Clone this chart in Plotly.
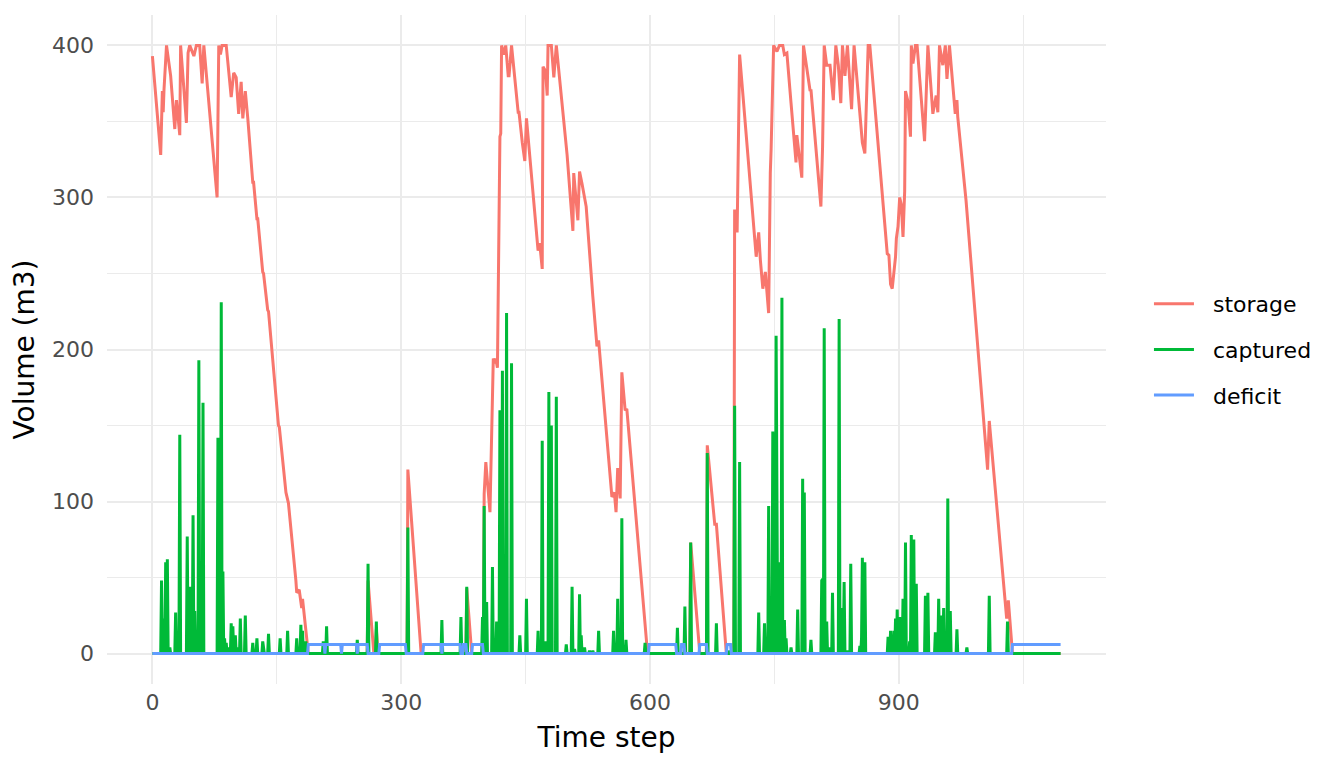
import numpy as np
import plotly.graph_objects as go

# ---------------- data ----------------
n_steps = 1096  # time steps 0..1095

# storage (m3): polyline vertices (time step, volume)
storage_t = [0, 10, 12, 13, 14, 17, 22, 27, 29, 33, 34, 41, 43, 45, 50, 53, 57, 60, 62, 78, 80, 82, 84, 89,
             95, 98, 101, 104, 107, 109, 112, 115, 121, 122, 126, 127, 133, 134, 139, 140, 152, 153, 161, 164,
             173, 174, 177, 180, 181, 184, 187, 188,
             259, 260, 267, 269, 270, 272, 307, 308, 324, 378, 379, 385, 399, 400, 402, 407, 411, 413, 414, 416,
             419, 420, 421, 424, 426, 429, 430, 433, 441, 442, 446, 449, 451, 465, 467, 470, 471, 474, 476, 477,
             481, 484, 487, 499, 500, 507, 508, 513, 515, 518, 523, 531, 535, 536, 538, 554, 557, 559, 561, 564,
             566, 570, 572, 593, 594, 597,
             648, 649, 660, 668, 669, 678, 680, 692, 701, 702, 705, 708, 728, 731, 733, 736, 739, 743, 745, 746,
             749, 753, 756, 760, 762, 765, 770, 776, 777, 781, 783, 785, 787, 793, 794, 806, 808, 810, 813, 817,
             821, 824, 827, 830, 832, 835, 838, 843, 846, 856, 859, 863, 865, 886, 888, 890, 892, 896, 897, 899,
             901, 903, 905, 907, 908, 911, 914, 915, 917, 920, 922, 931, 935, 941, 945, 947, 949, 953, 956, 958,
             961, 968, 970, 971, 981, 1007, 1009, 1030, 1032, 1034, 1037, 1095]
storage_v = [393, 328, 370, 356, 371, 400, 380, 345, 364, 341, 400, 349, 395, 400, 393, 400, 400, 375, 400, 300,
             400, 394, 400, 400, 366, 382, 379, 355, 376, 352, 370, 352, 310, 310, 286, 286, 251, 250, 226, 225,
             150, 149, 106, 99, 48, 40, 42, 30, 36, 19, 4, 0,
             0, 48, 0, 0, 16, 0, 0, 121, 0, 0, 43, 0, 0, 105, 126, 93, 194, 191, 194, 188,
             340, 342, 400, 394, 400, 380, 380, 400, 356, 356, 336, 324, 352, 265, 270, 253, 386, 383, 367, 400,
             400, 379, 400, 329, 328, 278, 316, 285, 317, 309, 294, 235, 211, 202, 206, 103, 106, 93, 122, 102,
             185, 160, 161, 24, 21, 0,
             0, 73, 0, 0, 137, 85, 85, 0, 0, 292, 277, 394, 261, 277, 259, 240, 251, 224, 316, 332,
             400, 396, 400, 400, 394, 395, 362, 323, 341, 324, 313, 400, 393, 370, 371, 294, 333, 400, 387, 387,
             364, 400, 387, 362, 400, 380, 400, 358, 400, 336, 329, 400, 400, 263, 262, 243, 240, 261, 273, 281,
             300, 295, 274, 304, 370, 363, 340, 400, 388, 400, 400, 337, 400, 355, 367, 356, 400, 387, 400, 378,
             400, 355, 364, 353, 298, 121, 153, 23, 35, 23, 0, 0]

# captured (m3): time steps with a non-zero capture and the captured volume
captured_t = [11, 13, 16, 18, 21, 28, 33, 42, 45, 46, 49, 51, 53, 56, 57, 61, 79, 81, 83, 85, 87, 89, 91, 95, 97,
              100, 102, 106, 112, 121, 126, 133, 134, 140, 154, 163, 174, 179, 181, 185, 206, 210,
              247, 260, 270, 308, 349, 372, 379, 398, 400, 403, 410, 415, 419, 422, 427, 433,
              443, 451, 465, 470, 474, 476, 478, 481, 487, 499, 506, 509, 515, 517, 521, 527, 531, 538, 556, 561,
              566, 571, 594, 633, 642, 649,
              669, 680, 696, 702, 708, 731, 738, 743, 748, 750, 752, 753, 755, 759, 762, 764, 770, 778, 784, 786,
              794, 807, 808, 810, 813, 817, 820, 828, 831, 834, 838, 842, 853, 855, 856, 859,
              887, 890, 894, 896, 898, 901, 903, 905, 908, 913, 915, 918, 921, 932, 935, 944, 946, 948, 951, 954,
              959, 962, 970, 982, 1009, 1031]
captured_v = [48, 23, 60, 62, 4, 27, 144, 77, 39, 44, 91, 28, 15, 193, 12, 165, 142, 52, 231, 54, 10, 7, 4, 20, 18,
              12, 4, 23, 25, 7, 10, 8, 5, 13, 10, 15, 10, 19, 15, 8, 8, 18,
              9, 59, 21, 83, 22, 24, 44, 24, 97, 34, 57, 21, 160, 186, 224, 191,
              12, 36, 15, 140, 8, 8, 172, 150, 169, 6, 44, 3, 39, 12, 4, 2, 2, 15, 15, 36,
              89, 9, 7, 17, 31, 73,
              132, 20, 2, 163, 126, 27, 20, 97, 146, 145, 209, 20, 60, 234, 22, 10, 4, 29, 115, 106,
              9, 48, 49, 214, 21, 4, 40, 220, 30, 47, 2, 59, 5, 10, 63, 60,
              11, 15, 15, 23, 29, 24, 20, 36, 73, 8, 78, 75, 46, 38, 40, 14, 13, 36, 25, 30,
              102, 28, 16, 4, 38, 21]

# deficit (m3): step vertices (time step, volume)
deficit_t = [0, 187, 188, 207, 208, 209, 227, 228, 229, 246, 247, 248, 259, 260, 273, 274, 305, 306, 326, 327,
             348, 349, 350, 371, 372, 374, 375, 378, 379, 385, 386, 398, 399, 598, 599, 631, 632, 637, 638, 641,
             642, 659, 660, 668, 669, 692, 693, 697, 698, 1036, 1037, 1095]
deficit_v = [0, 0, 6, 6, 0, 6, 6, 0, 6, 6, 0, 6, 6, 0, 0, 6, 6, 0, 0, 6,
             6, 0, 6, 6, 0, 0, 6, 6, 0, 0, 6, 6, 0, 0, 6, 6, 0, 0, 6, 6,
             0, 0, 6, 6, 0, 0, 6, 6, 0, 0, 6, 6]

series_names = ["storage", "captured", "deficit"]
series_colors = ["#F8766D", "#00BA38", "#619CFF"]

x_ticks = [0, 300, 600, 900]
y_ticks = [0, 100, 200, 300, 400]

# daily captured series built from the spike list
time_steps = np.arange(n_steps)
captured_daily = np.zeros(n_steps)
captured_daily[captured_t] = captured_v

# ---------------- figure ----------------
FONT = "DejaVu Sans"
LW = 3
NB = "\u00a0\u00a0"  # small gap between legend key and label
fig = go.Figure()
fig.add_trace(go.Scatter(x=storage_t, y=storage_v, mode="lines", name=NB + series_names[0],
                         legendgroup="a", line=dict(color=series_colors[0], width=LW)))
fig.add_trace(go.Scatter(x=time_steps, y=captured_daily, mode="lines", name=NB + series_names[1],
                         legendgroup="b", line=dict(color=series_colors[1], width=LW)))
fig.add_trace(go.Scatter(x=deficit_t, y=deficit_v, mode="lines", name=NB + series_names[2],
                         legendgroup="c", line=dict(color=series_colors[2], width=LW)))

grid_major = "#EBEBEB"
# the page body adds an 8px offset at top/left, so the figure is 8px smaller
fig.update_layout(
    width=1336, height=760,
    margin=dict(l=99, r=238, t=7, b=84),
    paper_bgcolor="white", plot_bgcolor="white",
    font=dict(family=FONT, color="black"),
    showlegend=True,
    legend=dict(x=1.043, y=0.5, xanchor="left", yanchor="middle",
                font=dict(family=FONT, size=22, color="black"),
                tracegroupgap=14, itemwidth=40, bgcolor="rgba(0,0,0,0)"),
)
fig.update_xaxes(
    range=[-54.75, 1149.75], tickvals=x_ticks, ticktext=[str(v) for v in x_ticks],
    showgrid=True, gridcolor=grid_major, gridwidth=2.2, zeroline=False, showline=False,
    ticks="", ticklabelstandoff=3, automargin=False,
    tickfont=dict(family=FONT, size=22, color="#4D4D4D"),
    minor=dict(tickvals=[150, 450, 750, 1050], showgrid=True, gridcolor=grid_major, gridwidth=1.2),
    title=dict(text="Time step", font=dict(family=FONT, size=28, color="black"), standoff=13),
)
fig.update_yaxes(
    range=[-20, 420], tickvals=y_ticks, ticktext=[str(v) for v in y_ticks],
    showgrid=True, gridcolor=grid_major, gridwidth=2.2, zeroline=False, showline=False,
    ticks="", ticklabelstandoff=12, automargin=False,
    tickfont=dict(family=FONT, size=22, color="#4D4D4D"),
    minor=dict(tickvals=[50, 150, 250, 350], showgrid=True, gridcolor=grid_major, gridwidth=1.2),
    title=dict(text="Volume (m3)", font=dict(family=FONT, size=28, color="black"), standoff=10),
)

fig.write_html("out.html")
